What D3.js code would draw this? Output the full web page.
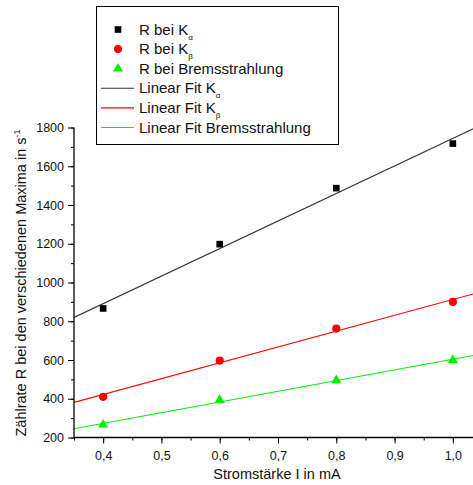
<!DOCTYPE html>
<html>
<head>
<meta charset="utf-8">
<script src="https://cdn.jsdelivr.net/npm/d3@7"></script>
<style>
  html, body { margin: 0; padding: 0; background: #fff; }
  svg { display: block; font-family: "Liberation Sans", Arial, sans-serif; }
</style>
</head>
<body>
<svg id="chart" width="473" height="485"></svg>
<script>
// Measured current (mA) and count rates (1/s)
const current = [0.4, 0.6, 0.8, 1.0];
const rateKalpha = [866, 1198, 1487, 1717];
const rateKbeta = [410, 597, 762, 900];
const rateBrems = [266, 393, 495, 600];

const xTicks = [0.4, 0.5, 0.6, 0.7, 0.8, 0.9, 1.0];
const yTicks = [200, 400, 600, 800, 1000, 1200, 1400, 1600, 1800];

const svg = d3.select("#chart");

const x = d3.scaleLinear().domain([0.35, 1.05]).range([74, 482]);
const y = d3.scaleLinear().domain([200, 1800]).range([437.5, 127.5]);

// least-squares straight line through a series
function linearFit(xs, ys) {
  const mx = d3.mean(xs), my = d3.mean(ys);
  let num = 0, den = 0;
  xs.forEach((v, i) => { num += (v - mx) * (ys[i] - my); den += (v - mx) * (v - mx); });
  const slope = num / den;
  return { slope, intercept: my - slope * mx };
}

const series = [
  { name: "K", sub: "\u03b1", values: rateKalpha, color: "#000000", lineColor: "#333333", symbol: d3.symbolSquare, size: 44 },
  { name: "K", sub: "\u03b2", values: rateKbeta, color: "#ff0000", lineColor: "#ff0000", symbol: d3.symbolCircle, size: 52 },
  { name: "Bremsstrahlung", sub: "", values: rateBrems, color: "#00f000", lineColor: "#00f000", symbol: d3.symbolTriangle, size: 44 }
];

// clip to the plot area
svg.append("clipPath").attr("id", "plotClip")
  .append("rect").attr("x", 74).attr("y", 100).attr("width", 400).attr("height", 338);

const plot = svg.append("g").attr("clip-path", "url(#plotClip)");

// fit lines
series.forEach(s => {
  const f = linearFit(current, s.values);
  const x0 = 0.35, x1 = 1.05;
  plot.append("line")
    .attr("x1", x(x0)).attr("y1", y(f.intercept + f.slope * x0))
    .attr("x2", x(x1)).attr("y2", y(f.intercept + f.slope * x1))
    .attr("stroke", s.lineColor).attr("stroke-width", 1.1);
});

// data points
series.forEach(s => {
  plot.selectAll(null).data(current).enter().append("path")
    .attr("d", d3.symbol().type(s.symbol).size(s.size))
    .attr("transform", (d, i) => `translate(${x(d)},${y(s.values[i])})`)
    .attr("fill", s.color);
});

// axes
const xMinor = d3.range(0.35, 1.051, 0.05).map(v => +v.toFixed(2));
const yMinor = d3.range(200, 1801, 100);

const gx = svg.append("g").attr("transform", `translate(0,${y(200)})`);
gx.call(d3.axisBottom(x).tickValues(xMinor).tickSize(3).tickFormat(""));
gx.call(g => {
  const major = g.append("g");
  major.call(d3.axisBottom(x).tickValues(xTicks).tickSize(6)
    .tickFormat(d => d3.format(".1f")(d).replace(".", ",")));
  major.select(".domain").remove();
});
gx.selectAll(".domain").attr("stroke", "#000").attr("stroke-width", 1.3)
  .attr("d", `M${x(0.35)},0H473`);
gx.selectAll("text").attr("font-size", 12.5).attr("fill", "#111")
  .attr("font-family", "Liberation Sans, Arial, sans-serif").attr("dy", "1.05em");
gx.selectAll("line").attr("stroke", "#000");

const gy = svg.append("g").attr("transform", `translate(${x(0.35)},0)`);
gy.call(d3.axisLeft(y).tickValues(yMinor).tickSize(3).tickFormat(""));
gy.call(g => {
  const major = g.append("g");
  major.call(d3.axisLeft(y).tickValues(yTicks).tickSize(6).tickFormat(d3.format("d")));
  major.select(".domain").remove();
});
gy.selectAll(".domain").attr("stroke", "#000").attr("stroke-width", 1.3)
  .attr("d", `M0,${y(200)}V${y(1800)}`);
gy.selectAll("text").attr("font-size", 12.5).attr("fill", "#111")
  .attr("font-family", "Liberation Sans, Arial, sans-serif").attr("x", -10);
gy.selectAll("line").attr("stroke", "#000");

// axis titles
svg.append("text")
  .attr("x", 277).attr("y", 479)
  .attr("text-anchor", "middle").attr("font-size", 14.5).attr("fill", "#111")
  .text("Stromstärke I in mA");

const yTitle = svg.append("text")
  .attr("transform", "translate(26,283) rotate(-90)")
  .attr("text-anchor", "middle").attr("font-size", 14.5).attr("fill", "#111");
yTitle.append("tspan").text("Zählrate R bei den verschiedenen Maxima in s");
yTitle.append("tspan").attr("dy", -6).attr("font-size", 9).text("-1");

// legend
const legend = svg.append("g");
legend.append("rect")
  .attr("x", 96.5).attr("y", 6.5).attr("width", 242).attr("height", 138)
  .attr("fill", "#fff").attr("stroke", "#000").attr("stroke-width", 1);

const rows = [
  ...series.map(s => ({ kind: "point", s, label: "R bei " + s.name })),
  ...series.map(s => ({ kind: "line", s, label: "Linear Fit " + s.name }))
];
rows.forEach((r, i) => {
  const cy = 29.5 + i * 19.6;
  if (r.kind === "point") {
    legend.append("path")
      .attr("d", d3.symbol().type(r.s.symbol).size(r.s.size))
      .attr("transform", `translate(118,${cy})`)
      .attr("fill", r.s.color);
  } else {
    legend.append("line")
      .attr("x1", 101).attr("x2", 134).attr("y1", cy).attr("y2", cy)
      .attr("stroke", r.s.lineColor).attr("stroke-width", 1.1);
  }
  const t = legend.append("text")
    .attr("x", 139).attr("y", cy + 5)
    .attr("font-size", 15).attr("fill", "#111");
  t.append("tspan").text(r.label);
  if (r.s.sub) {
    t.append("tspan").attr("dy", 5).attr("font-size", 8).text(r.s.sub);
  }
});
</script>
</body>
</html>
